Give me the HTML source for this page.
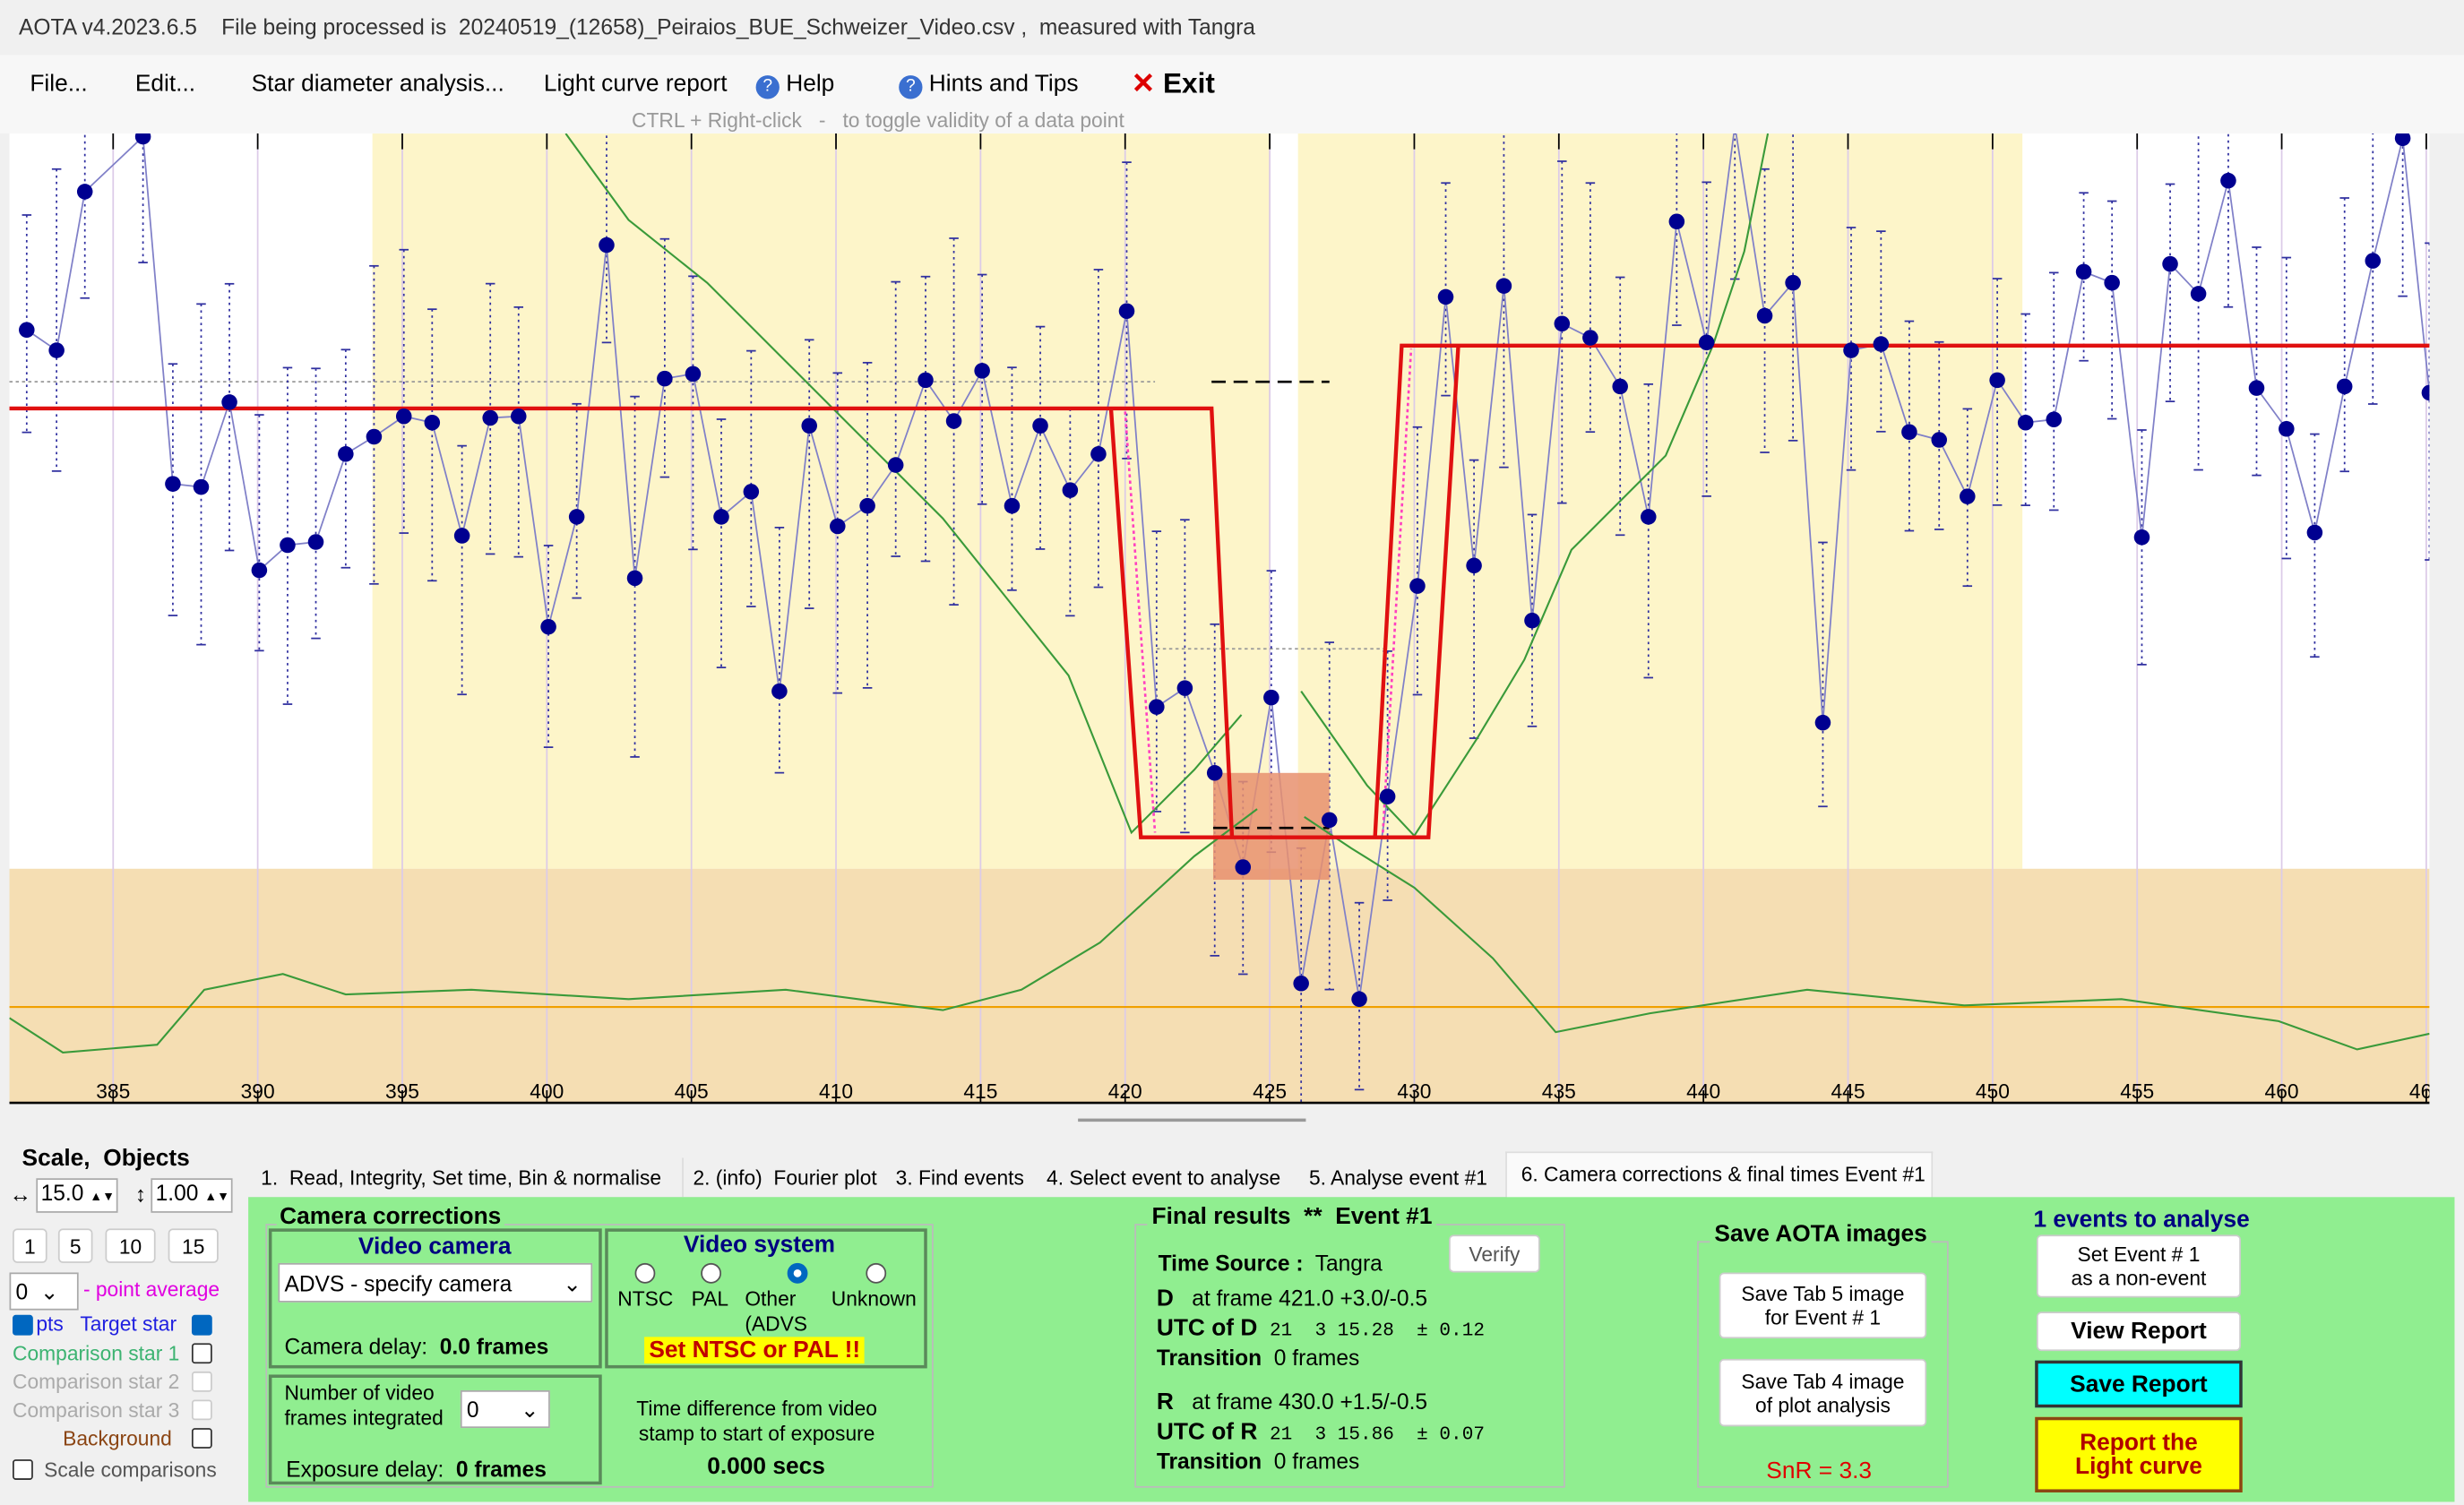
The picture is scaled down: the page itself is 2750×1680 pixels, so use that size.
<!DOCTYPE html>
<html><head><meta charset="utf-8"><style>
*{margin:0;padding:0;box-sizing:border-box}
html,body{width:2750px;height:1680px;overflow:hidden;background:#f0f0f0}
#s{position:absolute;left:0;top:0;width:1568px;height:958px;transform:scale(1.75383,1.75365);transform-origin:0 0;font-family:"Liberation Sans Narrow","Liberation Sans",sans-serif;font-size:14px;color:#000;background:#f0f0f0}
.a{position:absolute;white-space:nowrap}
.btn{position:absolute;background:#fff;border:1px solid #ccc;border-radius:3px;text-align:center;font-size:13px;line-height:15px;display:flex;align-items:center;justify-content:center}
.grp{position:absolute;border:1px solid #bbb}
.box{position:absolute;border:2px solid #5a8a5a}
.cb{position:absolute;width:13px;height:13px;border:1px solid #333;border-radius:2px;background:#fff}
.cbk{background:#0067c0;border-color:#0067c0}
.rad{position:absolute;width:13px;height:13px;border:1px solid #555;border-radius:50%;background:#fff}
.t{font-size:13px}
</style></head><body><div id="s">
<div class="a" style="left:12px;top:9px;font-size:14px;color:#333">AOTA v4.2023.6.5&nbsp;&nbsp;&nbsp;&nbsp;File being processed is&nbsp; 20240519_(12658)_Peiraios_BUE_Schweizer_Video.csv ,&nbsp;&nbsp;measured with Tangra</div>
<div class="a" style="left:0;top:35px;width:1568px;height:50px;background:#f7f7f7"></div>
<div class="a" style="left:19px;top:45px;font-size:15px">File...</div>
<div class="a" style="left:86px;top:45px;font-size:15px">Edit...</div>
<div class="a" style="left:160px;top:45px;font-size:15px">Star diameter analysis...</div>
<div class="a" style="left:346px;top:45px;font-size:15px">Light curve report</div>
<div class="a" style="left:481px;top:45px;font-size:15px"><span style="display:inline-block;width:15px;height:15px;border-radius:50%;background:#3a6fd0;color:#fff;font-size:11px;text-align:center;line-height:15px">?</span> Help</div>
<div class="a" style="left:572px;top:45px;font-size:15px"><span style="display:inline-block;width:15px;height:15px;border-radius:50%;background:#3a6fd0;color:#fff;font-size:11px;text-align:center;line-height:15px">?</span> Hints and Tips</div>
<div class="a" style="left:720px;top:43px;font-size:18px;font-weight:bold"><span style="color:#d00">✕</span> Exit</div>
<div class="a" style="left:402px;top:69px;font-size:13px;color:#999">CTRL + Right-click&nbsp;&nbsp; -&nbsp;&nbsp; to toggle validity of a data point</div>

<svg class="a" style="left:0;top:0" width="1568" height="720" id="plot"></svg>

<div class="a" style="left:686px;top:712px;width:145px;height:2px;background:#999"></div>

<!-- left panel -->
<div class="a" style="left:14px;top:729px;font-size:15px;font-weight:bold">Scale,&nbsp; Objects</div>
<div class="a" style="left:6px;top:752px">↔</div>
<div class="a" style="left:23px;top:750px;width:52px;height:22px;background:#fff;border:1px solid #aaa;font-size:14px;padding-left:2px">15.0 <span style="font-size:8px">▲▼</span></div>
<div class="a" style="left:86px;top:752px">↕</div>
<div class="a" style="left:96px;top:750px;width:52px;height:22px;background:#fff;border:1px solid #aaa;font-size:14px;padding-left:2px">1.00 <span style="font-size:8px">▲▼</span></div>
<div class="btn" style="left:8px;top:782px;width:22px;height:22px">1</div>
<div class="btn" style="left:37px;top:782px;width:22px;height:22px">5</div>
<div class="btn" style="left:67px;top:782px;width:32px;height:22px">10</div>
<div class="btn" style="left:107px;top:782px;width:32px;height:22px">15</div>
<div class="a" style="left:6px;top:810px;width:44px;height:24px;background:#fff;border:1px solid #aaa;padding:3px">0 &nbsp;⌄</div>
<div class="a" style="left:53px;top:813px;color:#e000e0;font-size:13px">- point average</div>
<div class="cb cbk" style="left:8px;top:837px"></div>
<div class="a" style="left:23px;top:835px;color:#2020e0;font-size:13px">pts&nbsp;&nbsp; Target star</div>
<div class="cb cbk" style="left:122px;top:837px"></div>
<div class="a" style="left:8px;top:854px;color:#3cb371;font-size:13px">Comparison star 1</div><div class="cb" style="left:122px;top:855px"></div>
<div class="a" style="left:8px;top:872px;color:#aaa;font-size:13px">Comparison star 2</div><div class="cb" style="left:122px;top:873px;border-color:#ccc"></div>
<div class="a" style="left:8px;top:890px;color:#aaa;font-size:13px">Comparison star 3</div><div class="cb" style="left:122px;top:891px;border-color:#ccc"></div>
<div class="a" style="left:40px;top:908px;color:#8b4513;font-size:13px">Background</div><div class="cb" style="left:122px;top:909px"></div>
<div class="cb" style="left:8px;top:929px"></div>
<div class="a" style="left:28px;top:928px;color:#555;font-size:13px">Scale comparisons</div>

<!-- tabs -->
<div class="a" style="left:158px;top:737px;width:1070px;height:26px;border-bottom:1px solid #ddd"></div>
<div class="a t" style="left:166px;top:742px">1.&nbsp; Read, Integrity, Set time, Bin &amp; normalise</div>
<div class="a" style="left:434px;top:737px;width:1px;height:25px;background:#ddd"></div>
<div class="a t" style="left:441px;top:742px">2. (info)&nbsp; Fourier plot</div>
<div class="a t" style="left:570px;top:742px">3. Find events</div>
<div class="a t" style="left:666px;top:742px">4. Select event to analyse</div>
<div class="a t" style="left:833px;top:742px">5. Analyse event #1</div>
<div class="a" style="left:958px;top:733px;width:272px;height:30px;background:#fafafa;border:1px solid #ddd;border-bottom:none"></div>
<div class="a t" style="left:968px;top:740px">6. Camera corrections &amp; final times Event #1</div>

<!-- green panel -->
<div class="a" style="left:158px;top:762px;width:1404px;height:194px;background:#90ee90"></div>
<div class="grp" style="left:169px;top:779px;width:425px;height:168px"></div>
<div class="a" style="left:176px;top:766px;font-size:15px;font-weight:bold;background:#90ee90;padding:0 2px">Camera corrections</div>
<div class="box" style="left:171px;top:782px;width:212px;height:89px"></div>
<div class="a" style="left:228px;top:785px;font-size:15px;font-weight:bold;color:#000080">Video camera</div>
<div class="a" style="left:177px;top:804px;width:200px;height:25px;background:#fff;border:1px solid #aaa;padding:4px 3px;font-size:14px">ADVS - specify camera<span style="position:absolute;right:6px">⌄</span></div>
<div class="a" style="left:181px;top:849px;font-size:14px">Camera delay:&nbsp; <b>0.0 frames</b></div>
<div class="box" style="left:385px;top:782px;width:205px;height:89px"></div>
<div class="a" style="left:435px;top:784px;font-size:15px;font-weight:bold;color:#000080">Video system</div>
<div class="rad" style="left:404px;top:804px"></div><div class="rad" style="left:446px;top:804px"></div>
<div class="rad" style="left:501px;top:804px;border:4px solid #0067c0"></div><div class="rad" style="left:551px;top:804px"></div>
<div class="a" style="left:393px;top:819px;font-size:13px">NTSC</div>
<div class="a" style="left:440px;top:819px;font-size:13px">PAL</div>
<div class="a" style="left:474px;top:819px;font-size:13px;line-height:16px">Other<br>(ADVS</div>
<div class="a" style="left:529px;top:819px;font-size:13px">Unknown</div>
<div class="a" style="left:410px;top:851px;background:#ffff00;color:#c00000;font-weight:bold;font-size:15px;padding:0 3px">Set NTSC or PAL !!</div>
<div class="box" style="left:171px;top:875px;width:212px;height:70px"></div>
<div class="a" style="left:181px;top:879px;font-size:13px;line-height:16px">Number of video<br>frames integrated</div>
<div class="a" style="left:293px;top:885px;width:57px;height:24px;background:#fff;border:1px solid #aaa;padding:3px">0<span style="position:absolute;right:6px">⌄</span></div>
<div class="a" style="left:182px;top:927px;font-size:14px">Exposure delay:&nbsp; <b>0 frames</b></div>
<div class="a" style="left:405px;top:889px;font-size:13px;line-height:16px;text-align:center">Time difference from video<br>stamp to start of exposure</div>
<div class="a" style="left:450px;top:925px;font-size:15px;font-weight:bold">0.000 secs</div>

<div class="grp" style="left:722px;top:779px;width:274px;height:168px"></div>
<div class="a" style="left:730px;top:766px;font-size:15px;font-weight:bold;background:#90ee90;padding:0 3px">Final results&nbsp; **&nbsp; Event #1</div>
<div class="btn" style="left:922px;top:786px;width:58px;height:24px;color:#555">Verify</div>
<div class="a" style="left:737px;top:796px;font-size:14px"><b>Time Source :</b>&nbsp; Tangra</div>
<div class="a" style="left:736px;top:818px;font-size:14px"><b style="font-size:15px">D</b>&nbsp;&nbsp; at frame 421.0 +3.0/-0.5</div>
<div class="a" style="left:736px;top:837px;font-size:14px"><b style="font-size:15px">UTC of D</b>&nbsp; <span style="font-family:'Liberation Mono',monospace;font-size:12px">21&nbsp;&nbsp;3 15.28&nbsp; ± 0.12</span></div>
<div class="a" style="left:736px;top:856px;font-size:14px"><b>Transition</b>&nbsp; 0 frames</div>
<div class="a" style="left:736px;top:884px;font-size:14px"><b style="font-size:15px">R</b>&nbsp;&nbsp; at frame 430.0 +1.5/-0.5</div>
<div class="a" style="left:736px;top:903px;font-size:14px"><b style="font-size:15px">UTC of R</b>&nbsp; <span style="font-family:'Liberation Mono',monospace;font-size:12px">21&nbsp;&nbsp;3 15.86&nbsp; ± 0.07</span></div>
<div class="a" style="left:736px;top:922px;font-size:14px"><b>Transition</b>&nbsp; 0 frames</div>

<div class="grp" style="left:1080px;top:790px;width:160px;height:157px"></div>
<div class="a" style="left:1088px;top:777px;font-size:15px;font-weight:bold;background:#90ee90;padding:0 3px">Save AOTA images</div>
<div class="btn" style="left:1094px;top:810px;width:132px;height:42px">Save Tab 5 image<br>for Event # 1</div>
<div class="btn" style="left:1094px;top:865px;width:132px;height:43px">Save Tab 4 image<br>of plot analysis</div>
<div class="a" style="left:1124px;top:928px;font-size:15px;color:#e00000">SnR = 3.3</div>

<div class="a" style="left:1294px;top:768px;font-size:15px;font-weight:bold;color:#000080">1 events to analyse</div>
<div class="btn" style="left:1296px;top:786px;width:130px;height:40px">Set Event # 1<br>as a non-event</div>
<div class="btn" style="left:1296px;top:835px;width:130px;height:25px;font-weight:bold;font-size:15px">View Report</div>
<div class="btn" style="left:1295px;top:866px;width:132px;height:30px;font-weight:bold;font-size:15px;background:#00ffff;border:2px solid #333;border-radius:0">Save Report</div>
<div class="btn" style="left:1295px;top:902px;width:132px;height:48px;font-weight:bold;font-size:15px;background:#ffff00;color:#b00000;border:2px solid #8b4513;border-radius:0">Report the<br>Light curve</div>
</div>
<script>
const svg=document.getElementById('plot');
let h='<defs><clipPath id="c"><rect x="6" y="85" width="1540" height="617"/></clipPath></defs><g clip-path="url(#c)">';
const X0=6,X1=1546,Y0=85,Y1=702;
h+=`<rect x="${X0}" y="${Y0}" width="${X1-X0}" height="${Y1-Y0}" fill="#fff"/>`;
h+=`<rect x="237" y="${Y0}" width="1050" height="468" fill="#fdf5c9"/>`;
h+=`<rect x="808" y="${Y0}" width="18" height="468" fill="#fff"/>`;
h+=`<rect x="${X0}" y="553" width="${X1-X0}" height="${Y1-553}" fill="#f5deb3"/>`;
const xf=f=>72+(f-385)*18.4;
for(let f=385;f<=465;f+=5){const x=xf(f);
 h+=`<line x1="${x}" y1="${Y0}" x2="${x}" y2="${Y1}" stroke="#dccbe8" stroke-width="1"/>`;
 h+=`<line x1="${x}" y1="${Y0}" x2="${x}" y2="${Y0+10}" stroke="#000"/><line x1="${x}" y1="${Y1-8}" x2="${x}" y2="${Y1}" stroke="#000"/>`;
 h+=`<text x="${x}" y="${Y1-3}" font-size="13" text-anchor="middle" font-family="Liberation Sans,sans-serif">${f}</text>`;}
h+=`<line x1="${X0}" y1="243" x2="735" y2="243" stroke="#999" stroke-dasharray="2,2"/>`;
h+=`<line x1="736" y1="413" x2="883" y2="413" stroke="#999" stroke-dasharray="2,2"/>`;
h+=`<line x1="${X0}" y1="641" x2="${X1}" y2="641" stroke="#f0a000" stroke-width="1.2"/>`;
const P=[[17,210],[36,223],[54,122],[91,87],[110,308],[128,310],[146,256],[165,363],[183,347],[201,345],[220,289],[238,278],[257,265],[275,269],[294,341],[312,266],[330,265],[349,399],[367,329],[386,156],[404,368],[423,241],[441,238],[459,329],[478,313],[496,440],[515,271],[533,335],[552,322],[570,296],[589,242],[607,268],[625,236],[644,322],[662,271],[681,312],[699,289],[717,198],[736,450],[754,438],[773,492],[791,552],[809,444],[828,626],[846,522],[865,636],[883,507],[902,373],[920,189],[938,360],[957,182],[975,395],[994,206],[1012,215],[1031,246],[1049,329],[1067,141],[1086,218],[1104,80],[1123,201],[1141,180],[1160,460],[1178,223],[1197,219],[1215,275],[1234,280],[1252,316],[1271,242],[1289,269],[1307,267],[1326,173],[1344,180],[1363,342],[1381,168],[1399,187],[1418,115],[1436,247],[1455,273],[1473,339],[1492,246],[1510,166],[1529,88],[1546,250]];
let seed=3;const r=()=>{seed=(seed*9301+49297)%233280;return seed/233280};
P.forEach(([x,y])=>{const a=50+r()*70,b=50+r()*70;h+=`<line x1="${x}" y1="${y-a}" x2="${x}" y2="${y+b}" stroke="#3030a0" stroke-width="1" stroke-dasharray="1.5,2.5"/>`;
 h+=`<line x1="${x-3}" y1="${y-a}" x2="${x+3}" y2="${y-a}" stroke="#3030a0"/><line x1="${x-3}" y1="${y+b}" x2="${x+3}" y2="${y+b}" stroke="#3030a0"/>`;});
h+=`<polyline points="${P.map(p=>p.join(',')).join(' ')}" fill="none" stroke="#8080c8" stroke-width="1"/>`;
h+=`<rect x="772" y="492" width="74" height="68" fill="#e8906e" opacity="0.85"/>`;
h+=`<line x1="771" y1="243" x2="846" y2="243" stroke="#000" stroke-width="1.5" stroke-dasharray="9,5"/>`;
h+=`<line x1="772" y1="527" x2="846" y2="527" stroke="#000" stroke-width="1.5" stroke-dasharray="9,5"/>`;
const g1="360,85 400,140 450,180 500,230 550,280 600,330 640,380 680,430 720,530 760,490 790,455";
const g2="6,648 40,670 100,665 130,630 180,620 220,633 300,630 400,636 500,630 600,643 650,630 700,600 760,545 800,515";
const g3="828,440 870,500 900,532 940,470 970,420 1000,350 1030,320 1060,290 1090,220 1110,160 1125,85";
const g4="830,520 860,540 900,565 950,610 990,657 1050,645 1150,630 1250,640 1350,636 1450,650 1500,668 1546,658";
[g1,g2,g3,g4].forEach(p=>h+=`<polyline points="${p}" fill="none" stroke="#3a9a3a" stroke-width="1.2"/>`);
h+=`<path d="M6 260 H771 L784 533 M707 260 L726 533 H909 L928 220 M875 533 L892 220 H1546" fill="none" stroke="#e01010" stroke-width="2.5"/>`;
h+=`<path d="M716 262 L735 530 M880 530 L898 222" fill="none" stroke="#ff40c0" stroke-width="1.5" stroke-dasharray="2,2"/>`;
P.forEach(([x,y])=>{h+=`<circle cx="${x}" cy="${y}" r="5" fill="#000090"/>`;});
h+='</g>';
h+=`<line x1="${X0}" y1="${Y1}" x2="${X1}" y2="${Y1}" stroke="#000" stroke-width="1.5"/>`;
svg.innerHTML=h;
</script>
</body></html>
